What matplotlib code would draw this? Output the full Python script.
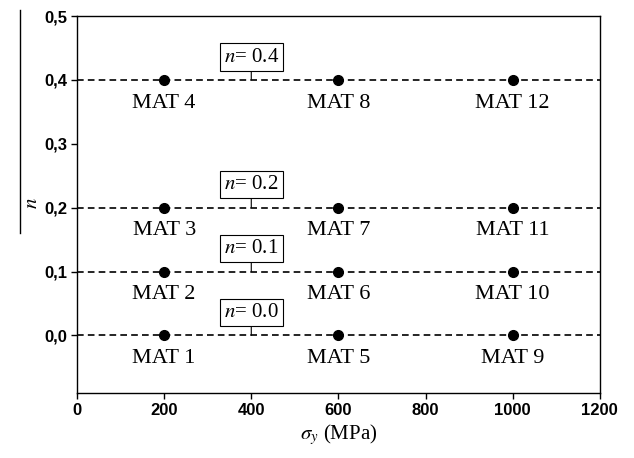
import matplotlib

matplotlib.use("Agg")
import matplotlib.pyplot as plt
from matplotlib.lines import Line2D

# data
n_levels = [0.0, 0.1, 0.2, 0.4]
sigma_y = [200, 600, 1000]
mat_labels = [
    ["MAT 1", "MAT 5", "MAT 9"],
    ["MAT 2", "MAT 6", "MAT 10"],
    ["MAT 3", "MAT 7", "MAT 11"],
    ["MAT 4", "MAT 8", "MAT 12"],
]
box_x = 400
x_ticks = [0, 200, 400, 600, 800, 1000, 1200]
y_ticks = [0.0, 0.1, 0.2, 0.3, 0.4, 0.5]
y_tick_labels = ["0,0", "0,1", "0,2", "0,3", "0,4", "0,5"]

plt.rcParams["mathtext.fontset"] = "stix"
serif = "Liberation Serif"
sans = "Liberation Sans"

fig = plt.figure(figsize=(6.34, 4.58), dpi=100)
ax = fig.add_axes([0.1215, 0.142, 0.8245, 0.823])

for n, row in zip(n_levels, mat_labels):
    ax.plot([0, 1200], [n, n], color="black", lw=1.2, linestyle=(0, (4, 2.5)), zorder=1)
    ax.plot(sigma_y, [n] * len(sigma_y), "o", color="black", markersize=7, zorder=3)
    for x, lab in zip(sigma_y, row):
        ax.annotate(lab, xy=(x, n), xytext=(0, -20), textcoords="offset points",
                    ha="center", va="baseline", fontsize=16, family=serif)
    ax.annotate(rf"$n$= {n:.1f}", xy=(box_x, n), xytext=(0, 16.5), textcoords="offset points",
                ha="center", va="center", fontsize=15, family=serif,
                bbox=dict(boxstyle="square,pad=0.2", fc="white", ec="black", lw=0.8),
                arrowprops=dict(arrowstyle="-", lw=0.8, color="black", shrinkA=0, shrinkB=0))

ax.set_xlim(0, 1200)
ax.set_ylim(-0.09, 0.5)
ax.set_xticks(x_ticks)
ax.set_xticklabels([str(v) for v in x_ticks], fontsize=12, fontweight="bold", family=sans)
ax.set_yticks(y_ticks)
ax.set_yticklabels(y_tick_labels, fontsize=12, fontweight="bold", family=sans)
ax.tick_params(direction="out", length=4, width=1, pad=3, top=False, right=False)
for sp in ax.spines.values():
    sp.set_linewidth(1.0)

ax.set_xlabel(r"$\sigma_y$ (MPa)", fontsize=15, family=serif, labelpad=3)

# y label with the long bar beside it
fig.text(21 / 634, 1 - 203 / 458, r"$n$", rotation=90, fontsize=15, ha="left", va="center")
fig.add_artist(Line2D([20 / 634, 20 / 634], [1 - 10 / 458, 1 - 233 / 458],
                      color="black", lw=1.0, transform=fig.transFigure))

fig.savefig("out.png", dpi=100)
